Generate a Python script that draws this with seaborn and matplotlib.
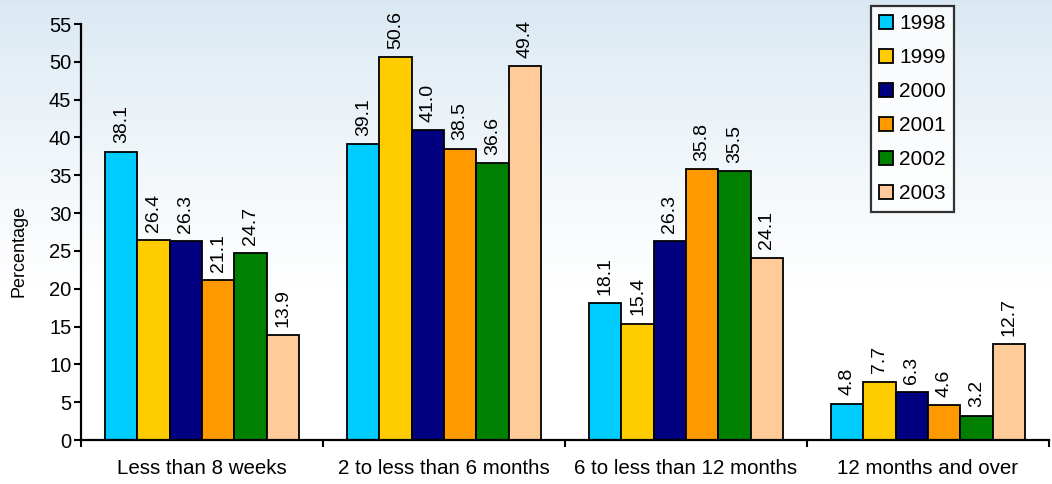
import numpy as np
import pandas as pd
import seaborn as sns
import matplotlib.pyplot as plt
from matplotlib.ticker import FixedLocator

categories = ['Less than 8 weeks', '2 to less than 6 months',
              '6 to less than 12 months', '12 months and over']
years = ['1998', '1999', '2000', '2001', '2002', '2003']
values_1998 = [38.1, 39.1, 18.1, 4.8]
values_1999 = [26.4, 50.6, 15.4, 7.7]
values_2000 = [26.3, 41.0, 26.3, 6.3]
values_2001 = [21.1, 38.5, 35.8, 4.6]
values_2002 = [24.7, 36.6, 35.5, 3.2]
values_2003 = [13.9, 49.4, 24.1, 12.7]
colors = ['#00CCFF', '#FFCC00', '#000080', '#FF9900', '#008000', '#FFCC99']

series = [values_1998, values_1999, values_2000, values_2001, values_2002, values_2003]
rows = []
for year, vals in zip(years, series):
    for cat, v in zip(categories, vals):
        rows.append({'duration': cat, 'year': year, 'pct': v})
df = pd.DataFrame(rows)

sns.set_style('white')
plt.rcParams['font.family'] = ['Liberation Sans', 'DejaVu Sans']
for key in ['text.color', 'axes.labelcolor', 'xtick.color', 'ytick.color']:
    plt.rcParams[key] = 'black'

fig = plt.figure(figsize=(10.52, 4.84), dpi=100)

# soft wintry background: pale blue at top fading to white
bg = fig.add_axes([0, 0, 1, 1], zorder=-10)
t = np.clip(np.linspace(0, 1, 256) / 0.6, 0, 1)[:, None]
t = t ** 0.8
top = np.array([0.85, 0.91, 0.95])
img = top[None, None, :] * (1 - t[..., None]) + np.ones(3)[None, None, :] * t[..., None]
img = np.repeat(img, 4, axis=1)
bg.imshow(img, aspect='auto', extent=[0, 1, 0, 1], origin='upper')
bg.set_axis_off()

ax = fig.add_axes([81 / 1052, 44 / 484, 968 / 1052, 416 / 484])
ax.patch.set_alpha(0)

sns.barplot(data=df, x='duration', y='pct', hue='year', palette=colors,
            width=0.8, edgecolor='black', linewidth=1.3, saturation=1,
            errorbar=None, ax=ax)

for cont in ax.containers:
    ax.bar_label(cont, fmt='%.1f', rotation=90, padding=6, fontsize=14)

ax.set_ylim(0, 55)
ax.set_yticks(np.arange(0, 56, 5))
ax.set_xlim(-0.5, 3.5)
ax.set_ylabel('Percentage', fontsize=13)
ax.yaxis.set_label_coords(-0.055, 0.454)
ax.set_xlabel('')

# category boundary ticks, labels centred between them
ax.xaxis.set_major_locator(FixedLocator([-0.5, 0.5, 1.5, 2.5, 3.5]))
ax.xaxis.set_major_formatter(plt.NullFormatter())
ax.xaxis.set_minor_locator(FixedLocator([0, 1, 2, 3]))
ax.set_xticklabels(categories, minor=True)
ax.tick_params(axis='x', which='major', length=5, width=1.5, direction='out', bottom=True)
ax.tick_params(axis='x', which='minor', length=0, pad=14, labelsize=14.8)
ax.tick_params(axis='y', length=5, width=1.5, direction='out', left=True, labelsize=14.5, pad=2)

sns.despine(ax=ax, top=True, right=True)
for side in ['left', 'bottom']:
    ax.spines[side].set_linewidth(1.6)
    ax.spines[side].set_color('black')

leg = ax.legend(title=None, loc='upper left', bbox_to_anchor=(790 / 968, 1.043),
                fontsize=15, frameon=True, fancybox=False, handlelength=0.65,
                handleheight=0.65, handletextpad=0.3, labelspacing=0.72,
                borderpad=0.4, borderaxespad=0)
frame = leg.get_frame()
frame.set_edgecolor('black')
frame.set_linewidth(1.6)
frame.set_facecolor((1, 1, 1, 0.5))

fig.savefig('out.png', dpi=100)
